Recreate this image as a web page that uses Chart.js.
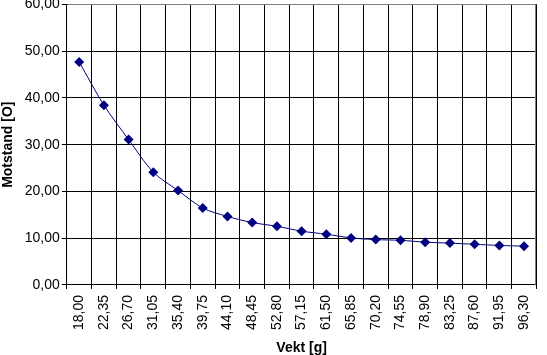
<!DOCTYPE html>
<html><head><meta charset="utf-8">
<script src="https://cdn.jsdelivr.net/npm/chart.js@4"></script>
<style>html,body{margin:0;padding:0;background:#fff;overflow:hidden}#wrap{position:relative;width:547px;height:355px;overflow:hidden}canvas{position:absolute;left:0;top:-6px}</style>
</head><body><div id="wrap"><canvas id="c" width="547" height="361"></canvas></div>
<script>
const categories = ["18,00","22,35","26,70","31,05","35,40","39,75","44,10","48,45","52,80","57,15","61,50","65,85","70,20","74,55","78,90","83,25","87,60","91,95","96,30"];
const motstand = [47.7,38.45,31.1,24.1,20.2,16.45,14.65,13.35,12.55,11.5,10.85,10.07,9.7,9.55,9.15,8.95,8.7,8.45,8.3];
const yTicks = [0,10,20,30,40,50,60];
const xTitle = "Vekt [g]";
const yTitle = "Motstand [O]";

const fam = "'Liberation Sans', Arial, sans-serif";
const borderPlugin = {
  id:'plotBorder',
  afterDraw(chart){
    const a = chart.chartArea, ctx = chart.ctx;
    ctx.save();
    ctx.lineWidth = 1;
    ctx.strokeStyle = '#808080';
    ctx.beginPath();
    ctx.moveTo(Math.round(a.left)+0.5, Math.round(a.top)+0.5);
    ctx.lineTo(Math.round(a.right)-0.5, Math.round(a.top)+0.5);
    ctx.lineTo(Math.round(a.right)-0.5, Math.round(a.bottom)+0.5);
    ctx.stroke();
    ctx.restore();
  }
};
new Chart(document.getElementById('c'), {
  type:'line',
  data:{labels:categories, datasets:[{
    data:motstand, borderColor:'#000080', backgroundColor:'#000080',
    borderWidth:1, pointStyle:'rectRot', pointRadius:5, pointHoverRadius:5,
    pointBorderWidth:0, tension:0.3, fill:false
  }]},
  options:{
    responsive:false, animation:false,
    layout:{padding:{top:0,right:0,left:0,bottom:0}},
    plugins:{legend:{display:false}, tooltip:{enabled:false}},
    scales:{
      x:{type:'category', offset:true,
        grid:{color:'#000', lineWidth:1, offset:true, drawTicks:true, tickLength:4, tickColor:'#000'},
        border:{color:'#000', width:1},
        ticks:{color:'#000', font:{family:fam, size:14}, minRotation:90, maxRotation:90, padding:6, autoSkip:false},
        title:{display:true, text:xTitle, color:'#000', font:{family:fam, size:14, weight:'bold', lineHeight:1}, padding:{top:5,bottom:0}}
      },
      y:{min:0, max:60,
        afterBuildTicks(s){ s.ticks = yTicks.map(v=>({value:v})); },
        grid:{color:'#000', lineWidth:1, drawTicks:true, tickLength:5, tickColor:'#000'},
        border:{color:'#000', width:1},
        ticks:{color:'#000', font:{family:fam, size:14}, padding:2, callback:v=>v.toFixed(2).replace('.',',')},
        title:{display:true, text:yTitle, color:'#000', font:{family:fam, size:14, weight:'bold'}, padding:{top:0,bottom:6}}
      }
    }
  },
  plugins:[borderPlugin]
});
</script></body></html>
